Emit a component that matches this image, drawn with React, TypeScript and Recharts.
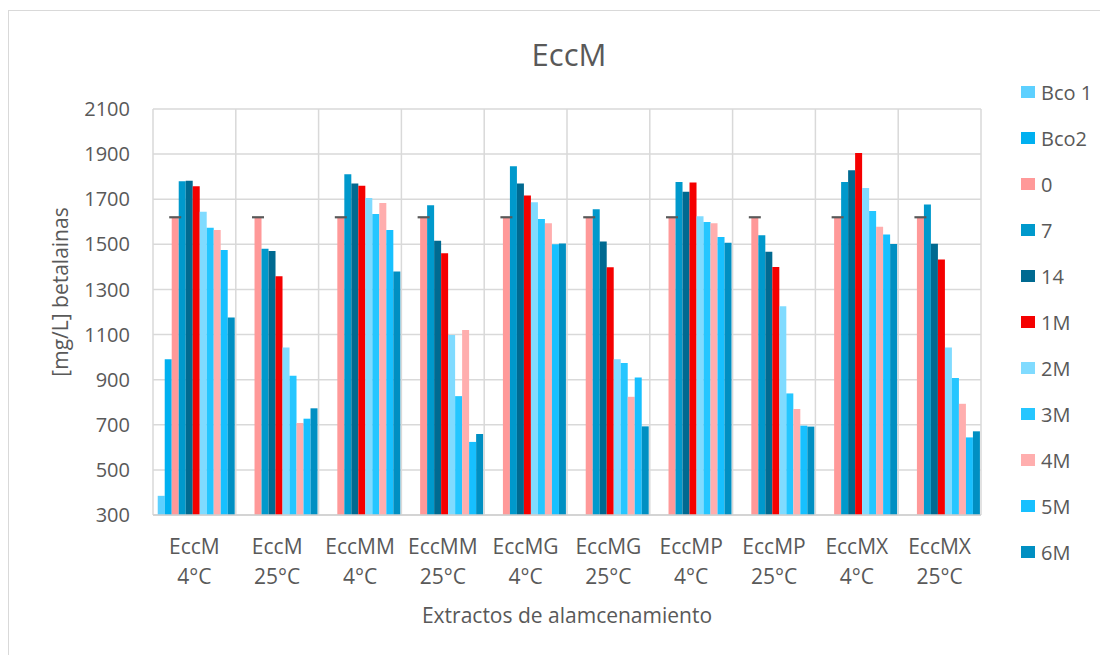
import { BarChart, Bar, XAxis, YAxis, CartesianGrid, LabelList } from 'recharts'

const categories = [
  'EccM 4°C', 'EccM 25°C', 'EccMM 4°C', 'EccMM 25°C', 'EccMG 4°C',
  'EccMG 25°C', 'EccMP 4°C', 'EccMP 25°C', 'EccMX 4°C', 'EccMX 25°C',
]

const bco1 = [385, null, null, null, null, null, null, null, null, null]
const bco2 = [990, null, null, null, null, null, null, null, null, null]
const dia0 = [1620, 1620, 1620, 1620, 1620, 1620, 1620, 1620, 1620, 1620]
const dia7 = [1780, 1480, 1811, 1673, 1846, 1655, 1776, 1540, 1776, 1677]
const dia14 = [1782, 1470, 1770, 1516, 1770, 1513, 1733, 1467, 1829, 1503]
const mes1 = [1758, 1359, 1760, 1461, 1717, 1398, 1774, 1399, 1905, 1433]
const mes2 = [1644, 1043, 1705, 1098, 1687, 991, 1625, 1226, 1750, 1043]
const mes3 = [1573, 917, 1634, 827, 1612, 974, 1599, 839, 1648, 907]
const mes4 = [1563, 708, 1683, 1120, 1594, 824, 1594, 770, 1578, 793]
const mes5 = [1475, 727, 1563, 624, 1500, 910, 1532, 696, 1544, 644]
const mes6 = [1176, 773, 1380, 659, 1504, 693, 1507, 692, 1501, 671]

const yTicks = [300, 500, 700, 900, 1100, 1300, 1500, 1700, 1900, 2100]

const series = [
  { key: 'bco1', name: 'Bco 1', color: '#5dd0ff', values: bco1 },
  { key: 'bco2', name: 'Bco2', color: '#00b0f0', values: bco2 },
  { key: 'd0', name: '0', color: '#ff9999', values: dia0 },
  { key: 'd7', name: '7', color: '#0099cc', values: dia7 },
  { key: 'd14', name: '14', color: '#006a91', values: dia14 },
  { key: 'm1', name: '1M', color: '#f50000', values: mes1 },
  { key: 'm2', name: '2M', color: '#80dbff', values: mes2 },
  { key: 'm3', name: '3M', color: '#25c6ff', values: mes3 },
  { key: 'm4', name: '4M', color: '#ffaeae', values: mes4 },
  { key: 'm5', name: '5M', color: '#17c0ff', values: mes5 },
  { key: 'm6', name: '6M', color: '#008fc2', values: mes6 },
]

const data = categories.map((cat, i) => {
  const row: Record<string, any> = { cat }
  series.forEach(s => { row[s.key] = s.values[i] })
  return row
})

const FONT = '"Open Sans", sans-serif'
const TEXT = '#595959'
const GRID = '#d9d9d9'

function CatTick({ x, y, payload }: any) {
  const [name, temp] = String(payload.value).split(' ')
  return (
    <text x={x} textAnchor="middle" fill={TEXT} fontSize={21} fontFamily={FONT}>
      <tspan x={x} y={y + 39}>{name}</tspan>
      <tspan x={x} y={y + 69}>{temp}</tspan>
    </text>
  )
}

function YTitle({ viewBox }: any) {
  const cx = 51
  const cy = viewBox.y + viewBox.height / 2 - 20
  return (
    <text x={cx} y={cy} transform={`rotate(-90, ${cx}, ${cy})`} textAnchor="middle"
      dominantBaseline="central" fill={TEXT} fontSize={21} fontFamily={FONT}>
      [mg/L] betalainas
    </text>
  )
}

// tapa horizontal (error cero) sobre las barras del día 0
function Cap({ x, y, width }: any) {
  const cx = Number(x) + Number(width) / 2
  return <line x1={cx - 6} x2={cx + 6} y1={y} y2={y} stroke="#595959" strokeWidth={2.2} />
}

export default function App() {
  return (
    <div style={{
      position: 'relative', marginTop: 2, width: 1100, height: 645, boxSizing: 'border-box',
      borderTop: `1px solid ${GRID}`, borderLeft: `1px solid ${GRID}`, background: '#fff',
      fontFamily: FONT,
    }}>
      <div style={{
        position: 'absolute', left: 0, top: 23, width: 1120, textAlign: 'center',
        fontSize: 31, color: TEXT, lineHeight: '40px',
      }}>
        EccM
      </div>

      <BarChart
        width={1099}
        height={644}
        data={data}
        margin={{ top: 98, right: 127, left: 0, bottom: 0 }}
        barGap={0}
        barCategoryGap="5.7%"
      >
        <CartesianGrid
          stroke={GRID}
          strokeWidth={1.5}
          horizontalValues={yTicks}
          verticalCoordinatesGenerator={({ offset }: any) =>
            Array.from({ length: categories.length + 1 }, (_, i) =>
              offset.left + (offset.width * i) / categories.length)}
        />
        <XAxis
          dataKey="cat"
          height={140}
          tickLine={false}
          tickSize={0}
          tickMargin={0}
          interval={0}
          axisLine={{ stroke: '#cfcfcf', strokeWidth: 1.5 }}
          tick={<CatTick />}
          label={{
            value: 'Extractos de alamcenamiento', position: 'insideBottom', offset: 32,
            fill: TEXT, fontSize: 21, fontFamily: FONT,
          }}
        />
        <YAxis
          type="number"
          width={144}
          domain={[300, 2100]}
          ticks={yTicks}
          interval={0}
          allowDataOverflow
          axisLine={false}
          tickLine={false}
          tickSize={0}
          tickMargin={23}
          tick={{ fill: TEXT, fontSize: 20, fontFamily: FONT }}
          label={<YTitle />}
        />
        {series.map(s => (
          <Bar key={s.key} dataKey={s.key} name={s.name} fill={s.color} isAnimationActive={false}>
            {s.key === 'd0' && <LabelList dataKey="d0" content={<Cap />} />}
          </Bar>
        ))}
      </BarChart>

      <div style={{ position: 'absolute', left: 1012, top: 58 }}>
        {series.map(s => (
          <div key={s.key} style={{ display: 'flex', alignItems: 'center', height: 46 }}>
            <span style={{ width: 14, height: 12, background: s.color, marginRight: 6 }} />
            <span style={{ fontSize: 20, color: TEXT }}>{s.name}</span>
          </div>
        ))}
      </div>
    </div>
  )
}
